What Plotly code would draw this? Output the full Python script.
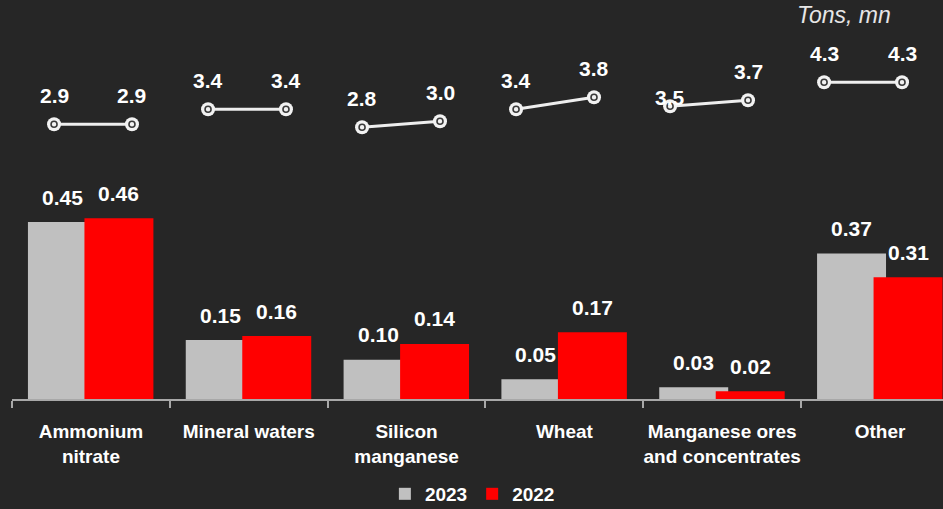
import plotly.graph_objects as go

# Categories and values
categories = ["Ammonium<br>nitrate", "Mineral waters", "Silicon<br>manganese",
              "Wheat", "Manganese ores<br>and concentrates", "Other"]
share_2023 = [0.45, 0.15, 0.10, 0.05, 0.03, 0.37]
share_2022 = [0.46, 0.16, 0.14, 0.17, 0.02, 0.31]
tons_2023 = [2.9, 3.4, 2.8, 3.4, 3.5, 4.3]
tons_2022 = [2.9, 3.4, 3.0, 3.8, 3.7, 4.3]
tons_label_nudge = {4: -20}  # pull the crowded 3.5 label down towards its marker

BG = "#262626"
GREY = "#c0c0c0"
RED = "#ff0000"
LINE = "#eeeeee"
FONT = "Liberation Sans"

bar_w = 0.437
off_2023 = -0.399
off_2022 = -0.041
pair_half = 0.253  # half distance between the two points of each pair

fig = go.Figure()

fig.add_trace(go.Bar(x=categories, y=share_2023, name="2023", marker_color=GREY,
                     width=bar_w, offset=off_2023, marker_line_width=0))
fig.add_trace(go.Bar(x=categories, y=share_2022, name="2022", marker_color=RED,
                     width=bar_w, offset=off_2022, marker_line_width=0))

# paired points connected by a line, one segment per category
lx, ly = [], []
for i, (a, b) in enumerate(zip(tons_2023, tons_2022)):
    lx += [i - pair_half, i + pair_half, None]
    ly += [a, b, None]

fig.add_trace(go.Scatter(x=lx, y=ly, xaxis="x2", yaxis="y2", mode="lines+markers",
                         line=dict(color=LINE, width=3),
                         marker=dict(size=14, color="#f2f2f2"),
                         showlegend=False, hoverinfo="skip"))
# small dark ring inside each point
fig.add_trace(go.Scatter(x=lx, y=ly, xaxis="x2", yaxis="y2", mode="markers",
                         marker=dict(size=6, color="#3a3a3a", symbol="circle-open",
                                     line=dict(width=1.6)),
                         showlegend=False, hoverinfo="skip"))

ann = []
for i, (a, b) in enumerate(zip(share_2023, share_2022)):
    ann.append(dict(x=i + off_2023 + bar_w / 2, y=a, xref="x", yref="y",
                    text=f"{a:.2f}", showarrow=False, yanchor="middle", yshift=25,
                    font=dict(family=FONT, size=21, color="white", weight="bold")))
    ann.append(dict(x=i + off_2022 + bar_w / 2, y=b, xref="x", yref="y",
                    text=f"{b:.2f}", showarrow=False, yanchor="middle", yshift=25,
                    font=dict(family=FONT, size=21, color="white", weight="bold")))
for i, (a, b) in enumerate(zip(tons_2023, tons_2022)):
    ann.append(dict(x=i - pair_half, y=a, xref="x2", yref="y2",
                    text=f"{a:.1f}", showarrow=False, yanchor="middle",
                    yshift=29 + tons_label_nudge.get(i, 0),
                    font=dict(family=FONT, size=21, color="white", weight="bold")))
    ann.append(dict(x=i + pair_half, y=b, xref="x2", yref="y2",
                    text=f"{b:.1f}", showarrow=False, yanchor="middle", yshift=29,
                    font=dict(family=FONT, size=21, color="white", weight="bold")))

ann.append(dict(x=0.9465, y=0.962, xref="paper", yref="paper", text="<i>Tons, mn</i>",
                showarrow=False, xanchor="right", yanchor="middle",
                font=dict(family=FONT, size=23, color="#e6e6e6")))

fig.update_layout(
    width=943, height=509,
    margin=dict(l=12, r=0, t=0, b=110, autoexpand=False),
    paper_bgcolor=BG, plot_bgcolor=BG,
    barmode="overlay",
    showlegend=True,
    legend=dict(orientation="h", x=0.4945, xanchor="center", y=-0.238, yanchor="middle",
                font=dict(family=FONT, size=19, color="white", weight="bold"),
                bgcolor="rgba(0,0,0,0)", itemclick=False),
    xaxis=dict(type="category", range=[-0.5, 5.399], showgrid=False, zeroline=False,
               showline=True, linecolor="#a8a8a8", linewidth=2,
               ticks="outside", tickson="boundaries", ticklen=7, tickcolor="#a8a8a8",
               tickwidth=2, ticklabelstandoff=14, tickangle=0, automargin=False,
               tickfont=dict(family=FONT, size=19, color="white", weight="bold")),
    yaxis=dict(range=[0, 1.015], visible=False, fixedrange=True),
    xaxis2=dict(overlaying="x", range=[-0.526, 5.519], visible=False),
    yaxis2=dict(overlaying="y", range=[-6.257, 7.043], visible=False),
    annotations=ann,
)

fig.write_html("out.html")
